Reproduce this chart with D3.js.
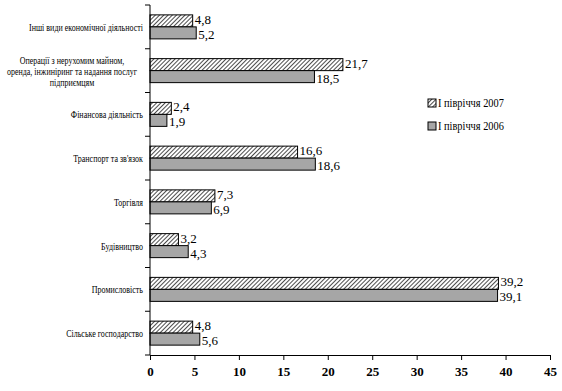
<!DOCTYPE html>
<html><head><meta charset="utf-8">
<script src="https://cdn.jsdelivr.net/npm/d3@7"></script>
<style>body{margin:0;background:#fff}svg{display:block}
svg text{font-family:"Liberation Serif","Times New Roman",serif}</style>
</head><body>
<script>
const categories = [
  ["Інші види економічної діяльності"],
  ["Операції з нерухомим майном,", "оренда, інжиніринг та надання послуг", "підприємцям"],
  ["Фінансова діяльність"],
  ["Транспорт та зв'язок"],
  ["Торгівля"],
  ["Будівництво"],
  ["Промисловість"],
  ["Сільське господарство"]
];
const series2007 = [4.8, 21.7, 2.4, 16.6, 7.3, 3.2, 39.2, 4.8];
const series2006 = [5.2, 18.5, 1.9, 18.6, 6.9, 4.3, 39.1, 5.6];
const seriesNames = ["І півріччя 2007", "І півріччя 2006"];
const xTicks = [0, 5, 10, 15, 20, 25, 30, 35, 40, 45];

const W = 562, H = 391;
const svg = d3.select("body").append("svg").attr("width", W).attr("height", H);
const defs = svg.append("defs");
const pat = defs.append("pattern").attr("id", "hatch").attr("patternUnits", "userSpaceOnUse")
  .attr("width", 3).attr("height", 3).attr("patternTransform", "rotate(45)");
pat.append("rect").attr("width", 3).attr("height", 3).attr("fill", "#fff");
pat.append("line").attr("x1", 0).attr("y1", 0).attr("x2", 0).attr("y2", 3)
  .attr("stroke", "#000").attr("stroke-width", 1.4);

const x = d3.scaleLinear().domain([0, 45]).range([150, 550]);
const y = d3.scaleBand().domain(d3.range(categories.length)).range([5, 355]);
const barH = 12;
const fills = ["url(#hatch)", "#a6a6a6"];

const data = [series2007, series2006];
data.forEach((vals, s) => {
  const g = svg.append("g");
  g.selectAll("rect").data(vals).enter().append("rect")
    .attr("x", x(0))
    .attr("y", (d, i) => y(i) + y.bandwidth() / 2 - barH + s * barH)
    .attr("width", d => x(d) - x(0))
    .attr("height", barH)
    .attr("fill", fills[s]).attr("stroke", "#000").attr("stroke-width", 1);
  g.selectAll("text").data(vals).enter().append("text")
    .attr("x", d => x(d) + 2)
    .attr("y", (d, i) => y(i) + y.bandwidth() / 2 - barH + s * barH + (s === 0 ? 9 : 12))
    .attr("font-size", 13).attr("fill", "#000")
    .text(d => String(d).replace(".", ","));
});

// y axis
const ya = svg.append("g");
ya.append("line").attr("x1", 150).attr("x2", 150).attr("y1", 5).attr("y2", 355).attr("stroke", "#000");
d3.range(categories.length + 1).forEach(i => {
  const yy = i < categories.length ? y(i) : 355;
  ya.append("line").attr("x1", 145).attr("x2", 150).attr("y1", yy).attr("y2", yy).attr("stroke", "#000");
});
const sx = 0.8;
categories.forEach((lines, i) => {
  const cy = y(i) + y.bandwidth() / 2;
  if (lines.length === 1) {
    ya.append("text").attr("transform", `translate(143,${cy + 4}) scale(${sx},1)`).attr("text-anchor", "end")
      .attr("font-size", 10).text(lines[0]);
  } else {
    lines.forEach((l, j) => {
      ya.append("text").attr("transform", `translate(72,${cy + (j - 1) * 11 + 4}) scale(${sx},1)`)
        .attr("text-anchor", "middle").attr("font-size", 10).text(l);
    });
  }
});

// x axis
const xa = svg.append("g").attr("transform", "translate(0,355)")
  .call(d3.axisBottom(x).tickValues(xTicks).tickSize(5).tickSizeOuter(0).tickPadding(7));
xa.attr("font-family", null);
xa.select(".domain").attr("stroke", "#000");
xa.selectAll(".tick line").attr("stroke", "#000");
xa.selectAll("text").attr("font-size", 13).attr("font-weight", "bold").attr("fill", "#000");

// legend
const lg = svg.append("g");
seriesNames.forEach((n, i) => {
  const ly = 107 + i * 23;
  lg.append("rect").attr("x", 428).attr("y", ly - 8).attr("width", 8).attr("height", 8)
    .attr("fill", fills[i]).attr("stroke", "#000");
  lg.append("text").attr("transform", `translate(438,${ly}) scale(0.9,1)`).attr("font-size", 11.5).text(n);
});
</script>
</body></html>
